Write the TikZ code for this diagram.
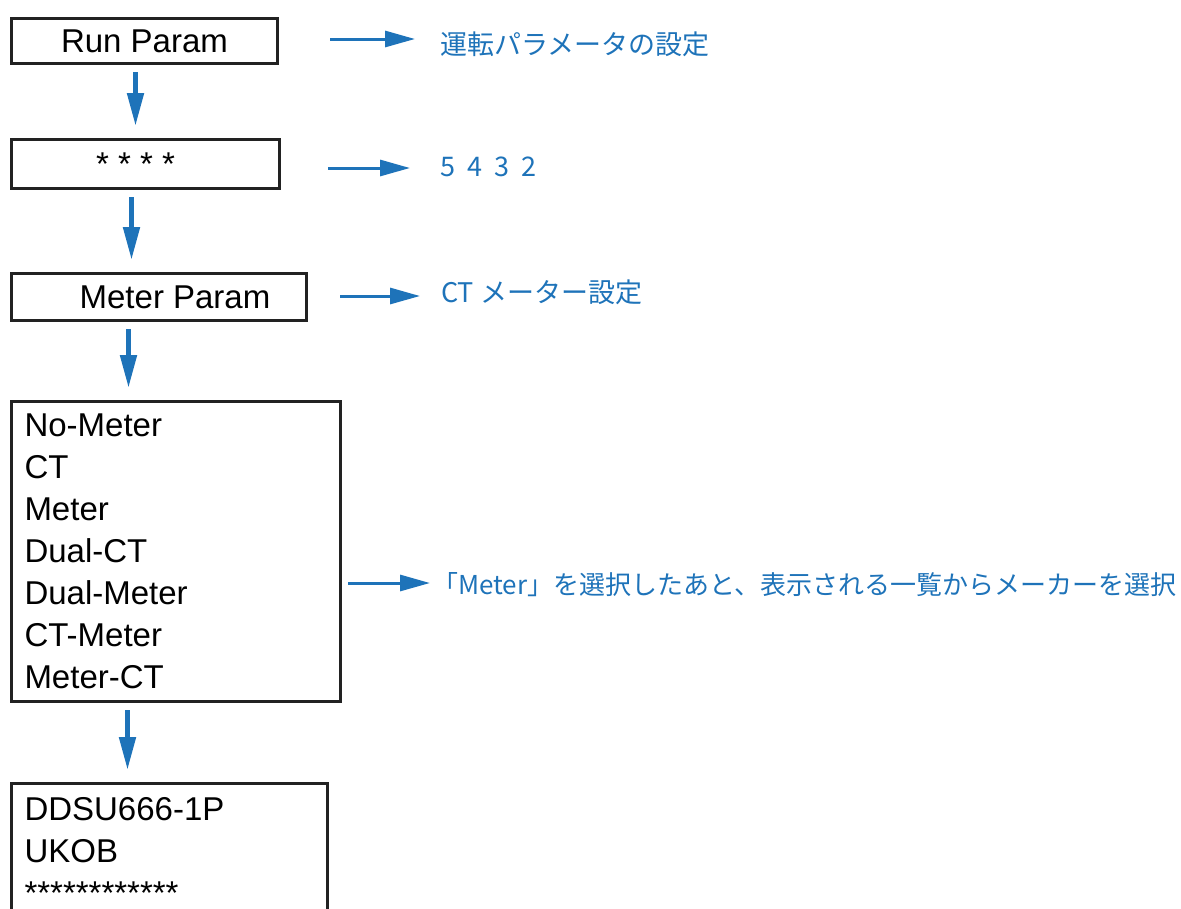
\documentclass[tikz,border=0pt]{standalone}
\usepackage{fontspec}
\setmainfont{Liberation Sans}
\newfontfamily\jpfont{Noto Sans CJK JP}
\usepackage{tikz}
\usetikzlibrary{arrows.meta, calc, positioning}
\definecolor{flowblue}{RGB}{30,115,185}
\definecolor{boxline}{RGB}{34,34,34}
\tikzset{
    menubox/.style={draw=boxline, line width=3pt, anchor=north west, inner sep=0pt, font=\fontsize{33}{42}\selectfont},
    listbox/.style={menubox, inner xsep=13pt, align=left},
    note/.style={anchor=west, inner sep=0pt, text=flowblue, font=\jpfont\fontsize{27}{30}\selectfont},
    varrow/.style={flowblue, line width=5pt, -{Triangle[length=33pt, width=16pt]}, shorten <=7pt, shorten >=12pt},
    harrow/.style={flowblue, line width=3pt, -{Triangle[length=30pt, width=16pt]}}
}

\begin{document}
\begin{tikzpicture}[x=1pt, y=-1pt]
    \clip (0,0) rectangle (1181,908);
    \node[menubox, minimum width=266pt, minimum height=45pt] (run) at (10,17) {Run Param};
    \node[menubox, minimum width=268pt, minimum height=49pt] (pass) at (10,138) {* * * *\hspace*{20pt}};
    \node[menubox, minimum width=295pt, minimum height=47pt] (meter) at (10,272) {\hspace*{32pt}Meter Param};
    \node[listbox, text width=303pt, minimum height=300pt] (mode) at (10,400)
        {No-Meter\\CT\\Meter\\Dual-CT\\Dual-Meter\\CT-Meter\\Meter-CT};
    \node[listbox, text width=290pt, minimum height=134pt] (maker) at (10,782)
        {DDSU666-1P\\UKOB\\*************};

    \node[note] (n1) at (440,44) {運転パラメータの設定};
    \node[note] (n2) at (440,167) {5\hspace{0.45em}4\hspace{0.45em}3\hspace{0.45em}2};
    \node[note] (n3) at (441,292) {CT メーター設定};
    \node[note, font=\jpfont\fontsize{26}{30}\selectfont] (n4) at (432,585) {「Meter」を選択したあと、表示される一覧からメーカーを選択};

    \draw[varrow] ([xshift=-9pt]run.south) -- ([xshift=-9pt]run.south |- pass.north);
    \draw[varrow] ([xshift=-14pt]pass.south) -- ([xshift=-14pt]pass.south |- meter.north);
    \draw[varrow] ([xshift=-30.5pt]meter.south) -- ([xshift=-30.5pt]meter.south |- mode.north);
    \draw[varrow] ([xshift=-48.5pt]mode.south) -- ([xshift=-48.5pt]mode.south |- maker.north);

    \draw[harrow, shorten <=51pt, shorten >=25pt] (run.east |- 0,39) -- (n1.west |- 0,39);
    \draw[harrow, shorten <=47pt, shorten >=30pt] (pass.east |- 0,168) -- (n2.west |- 0,168);
    \draw[harrow, shorten <=32pt, shorten >=21pt] (meter.east |- 0,296) -- (n3.west |- 0,296);
    \draw[harrow, shorten <=6pt, shorten >=2pt] (mode.east |- 0,583) -- (n4.west |- 0,583);
\end{tikzpicture}
\end{document}
